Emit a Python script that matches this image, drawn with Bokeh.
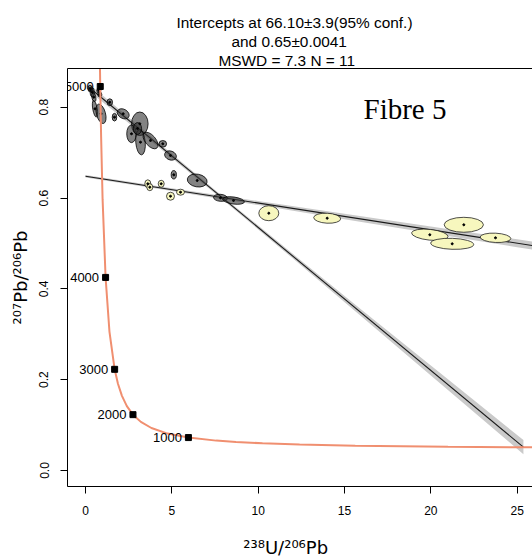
import math
from bokeh.plotting import figure
from bokeh.models import (Range1d, LinearAxis, FixedTicker, PrintfTickFormatter, Label, Title)
from bokeh.embed import file_html
from bokeh.resources import INLINE

# ---------------- data ----------------
x_ticks = [0, 5, 10, 15, 20, 25]
y_ticks = [0.0, 0.2, 0.4, 0.6, 0.8]

title_lines = ["Intercepts at 66.10\u00b13.9(95% conf.)", "and 0.65\u00b10.0041", "MSWD = 7.3 N = 11"]
x_title = "\u00b2\u00b3\u2078U/\u00b2\u2070\u2076Pb"
y_title = "\u00b2\u2070\u2077Pb/\u00b2\u2070\u2076Pb"
sample_name = "Fibre 5"

# concordia curve (Ma, 238U/206Pb, 207Pb/206Pb)
conc_age = [5200, 5000, 4800, 4500, 4000, 3500, 3000, 2750, 2500, 2250, 2000, 1750, 1500, 1250,
            1000, 800, 700, 600, 500, 400, 300, 250, 220]
conc_x = [0.8062, 0.8533, 0.9046, 0.9903, 1.1630, 1.3868, 1.6874, 1.8796, 2.1110, 2.3941, 2.7491,
          3.2064, 3.8171, 4.6733, 5.9594, 7.5681, 8.7182, 10.2518, 12.3993, 15.6211, 20.9919,
          25.289, 28.805]
conc_y = [0.9742, 0.8456, 0.7351, 0.5970, 0.4252, 0.3060, 0.2228, 0.1910, 0.1644, 0.1419, 0.1230,
          0.1071, 0.0936, 0.0822, 0.0725, 0.0658, 0.0628, 0.0599, 0.0573, 0.0547, 0.0524,
          0.0512, 0.0506]

age_labels = ["1000", "2000", "3000", "4000", "5000"]
age_x = [5.9594, 2.7491, 1.6874, 1.1630, 0.8533]
age_y = [0.0725, 0.1230, 0.2228, 0.4252, 0.8456]

# dark (grey) analyses: centre, full widths (x units, y units), tilt (deg)
dark_x = [0.261, 0.388, 0.481, 0.770, 0.828, 0.550, 0.898, 1.407, 1.679, 2.183, 3.145, 2.664,
          3.185, 3.764, 3.011, 4.476, 4.922, 5.113, 6.469, 7.818, 8.571]
dark_y = [0.8412, 0.8331, 0.8221, 0.8368, 0.8280, 0.7965, 0.7855, 0.8110, 0.7780, 0.7855, 0.7635,
          0.7415, 0.7230, 0.7267, 0.7531, 0.7194, 0.6937, 0.6512, 0.6386, 0.6005, 0.5946]
dark_w = [0.232, 0.232, 0.232, 0.232, 0.232, 0.260, 0.520, 0.320, 0.260, 0.740, 0.960, 0.550,
          0.550, 1.150, 0.470, 0.440, 0.700, 0.300, 1.158, 0.811, 1.274]
dark_h = [0.0154, 0.0198, 0.0198, 0.0110, 0.0110, 0.0370, 0.0440, 0.0150, 0.0170, 0.0200, 0.0520,
          0.0390, 0.0560, 0.0230, 0.0260, 0.0145, 0.0195, 0.0185, 0.0280, 0.0154, 0.0154]
dark_angle = [0, 0, 10, 0, 0, 10, 15, 0, 0, -30, 0, 0, 5, -50, 0, 0, -20, 0, -10, -5, -8]

# yellow analyses
yel_x = [3.608, 3.724, 4.384, 4.922, 5.502, 10.615, 13.997, 19.939, 21.908, 21.236, 23.743]
yel_y = [0.6314, 0.6239, 0.6314, 0.6040, 0.6129, 0.5666, 0.5556, 0.5191, 0.5411, 0.4992, 0.5124]
yel_w = [0.347, 0.347, 0.347, 0.463, 0.463, 1.158, 1.564, 2.125, 2.276, 2.490, 1.778]
yel_h = [0.0176, 0.0154, 0.0154, 0.0176, 0.0132, 0.0330, 0.0220, 0.0236, 0.0330, 0.0242, 0.0205]
yel_angle = [0, 0, 0, 0, 0, 0, -3, -6, 0, -2, -3]

# regression lines and their confidence envelopes
dark_line_x = [0.25, 25.36]
dark_line_y = [0.8423, 0.0514]
dark_band_x = [0.25, 4, 8, 12, 16, 20, 25.36]
dark_band_lo = [0.8343, 0.7192, 0.5947, 0.4672, 0.3387, 0.2092, 0.0359]
dark_band_hi = [0.8503, 0.7292, 0.6017, 0.4772, 0.3537, 0.2312, 0.0669]

yel_line_x = [0, 27]
yel_line_y = [0.648, 0.4887]
yel_band_x = [0, 5, 10, 15, 20, 25, 27]
yel_band_lo = [0.6455, 0.6153, 0.5845, 0.5535, 0.5227, 0.4919, 0.4795]
yel_band_hi = [0.6505, 0.6217, 0.5935, 0.5655, 0.5373, 0.5091, 0.4979]

# ---------------- layout ----------------
W, H = 532, 560
FRAME_L, FRAME_T, FRAME_B = 67, 68, 486
X_PX0, X_PPU = 85.0, 17.268
Y_PX0, Y_PPU = 470.0, 454.1


def px2x(px):
    return (px - X_PX0) / X_PPU


def py2y(py):
    return (Y_PX0 - py) / Y_PPU


FONT = "Liberation Sans"
SUPFONT = "DejaVu Sans"

p = figure(width=W, height=H, title=None,
           x_range=Range1d(px2x(FRAME_L), px2x(W)),
           y_range=Range1d(py2y(FRAME_B), py2y(FRAME_T)),
           output_backend="svg", toolbar_location=None,
           x_axis_type=None, y_axis_type=None,
           min_border_left=FRAME_L, min_border_right=0,
           min_border_top=FRAME_T, min_border_bottom=H - FRAME_B)
p.outline_line_color = None
p.background_fill_color = "white"
p.border_fill_color = "white"

xaxis = LinearAxis(ticker=FixedTicker(ticks=x_ticks), formatter=PrintfTickFormatter(format="%d"))
yaxis = LinearAxis(ticker=FixedTicker(ticks=y_ticks), formatter=PrintfTickFormatter(format="%.1f"))
for ax in (xaxis, yaxis):
    ax.major_tick_out = 7
    ax.major_tick_in = 0
    ax.minor_tick_line_color = None
    ax.axis_line_color = "black"
    ax.major_tick_line_color = "black"
    ax.major_label_text_font = FONT
    ax.major_label_text_font_size = "12px"
    ax.major_label_text_color = "black"
    ax.axis_label_text_font = SUPFONT
    ax.axis_label_text_font_size = "18px"
    ax.axis_label_text_font_style = "normal"
    ax.axis_label_text_color = "black"
xaxis.major_label_standoff = 12
yaxis.major_label_standoff = 12
yaxis.major_label_orientation = "parallel"
xaxis.axis_label = x_title + "\u00a0" * 5
xaxis.axis_label_standoff = 19
yaxis.axis_label = y_title
yaxis.axis_label_standoff = 6
p.add_layout(xaxis, "below")
p.add_layout(yaxis, "left")

top = LinearAxis(ticker=FixedTicker(ticks=[]))
top.major_tick_line_color = None
top.minor_tick_line_color = None
top.major_tick_out = 0
top.major_tick_in = 0
top.minor_tick_out = 0
top.major_label_standoff = 0
top.major_label_text_font_size = "0px"
top.axis_line_color = "black"
p.add_layout(top, "above")

# title lines (nearest the plot first)
for txt, off in reversed(list(zip(title_lines, [109, 164, 151]))):
    p.add_layout(Title(text=txt, align="left", offset=off, standoff=0, text_font=FONT,
                       text_font_size="15.4px", text_font_style="normal",
                       text_color="black"), "above")

# confidence envelopes
p.varea(x=dark_band_x, y1=dark_band_lo, y2=dark_band_hi, fill_color="#cacaca")
p.varea(x=yel_band_x, y1=yel_band_lo, y2=yel_band_hi, fill_color="#cacaca")
p.line(dark_line_x, dark_line_y, line_color="#1a1a1a", line_width=1.1)
p.line(yel_line_x, yel_line_y, line_color="#1a1a1a", line_width=1.1)

# error ellipses
p.ellipse(x=dark_x, y=dark_y, width=dark_w, height=dark_h, angle=dark_angle, angle_units="deg",
          fill_color="#303030", fill_alpha=0.6, line_color="black", line_width=0.8)
p.ellipse(x=yel_x, y=yel_y, width=yel_w, height=yel_h, angle=yel_angle, angle_units="deg",
          fill_color="#f7f7be", fill_alpha=1.0, line_color="#222222", line_width=0.8)
p.scatter(x=dark_x + yel_x, y=dark_y + yel_y, size=2, color="black")

# concordia with age markers (labels are clipped by the plot frame)
p.line(conc_x, conc_y, line_color="#f08f70", line_width=2)
p.scatter(x=age_x, y=age_y, marker="square", size=6, color="black")
for ax_, ay_, lab in zip(age_x, age_y, age_labels):
    p.add_layout(Label(x=ax_, y=ay_, text=lab, x_offset=-6.5, text_align="right",
                       text_baseline="middle", text_font=FONT, text_font_size="13px",
                       text_color="black"))

# sample name
p.add_layout(Label(x=px2x(363), y=py2y(108), text=sample_name, text_align="left",
                   text_baseline="alphabetic", text_font="Liberation Serif",
                   text_font_size="29px", text_color="black"))

open("out.html", "w").write(file_html(p, INLINE))
